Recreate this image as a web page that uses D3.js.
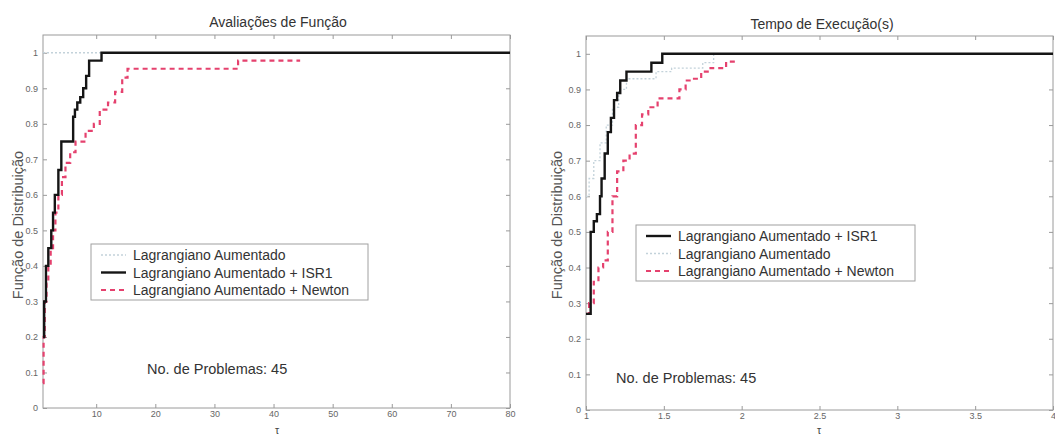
<!DOCTYPE html>
<html><head><meta charset="utf-8">
<script src="https://cdn.jsdelivr.net/npm/d3@7"></script>
<style>
html,body{margin:0;padding:0;background:#fff;}
svg{display:block;font-family:"Liberation Sans",Arial,sans-serif;}
</style></head>
<body>
<svg id="chart" width="1055" height="437"></svg>
<script>
// ---------- data ----------
const seriesNames = ["Lagrangiano Aumentado", "Lagrangiano Aumentado + ISR1", "Lagrangiano Aumentado + Newton"];
const nProblems = 45;

// Panel 1: Avaliações de Função
const fnXTicks = [10, 20, 30, 40, 50, 60, 70, 80];
const fnLaTau   = [1, 80];
const fnLaRho   = [1, 1];
const fnIsr1Tau = [1, 1.2, 1.5, 1.9, 2.4, 2.7, 3.0, 3.6, 4.1, 6.1, 6.4, 6.8, 7.3, 7.8, 8.3, 8.8, 10.9, 80];
const fnIsr1Rho = [0.2, 0.3, 0.4, 0.45, 0.5, 0.55, 0.6, 0.67, 0.75, 0.82, 0.84, 0.86, 0.875, 0.9, 0.935, 0.978, 1, 1];
const fnNewtTau = [1, 1.1, 1.3, 1.6, 1.9, 2.3, 2.7, 3.1, 3.6, 4.2, 4.8, 5.6, 6.5, 8.2, 9.6, 10.6, 12.0, 13.2, 14.4, 15.3, 34.0, 44.5];
const fnNewtRho = [0.07, 0.2, 0.3, 0.35, 0.4, 0.45, 0.5, 0.55, 0.6, 0.65, 0.69, 0.72, 0.75, 0.78, 0.8, 0.84, 0.86, 0.89, 0.93, 0.955, 0.978, 0.978];

// Panel 2: Tempo de Execução(s)
const tmXTicks = [1, 1.5, 2, 2.5, 3, 3.5, 4];
const tmIsr1Tau = [1, 1.03, 1.05, 1.07, 1.09, 1.1, 1.12, 1.14, 1.16, 1.18, 1.2, 1.22, 1.26, 1.3, 1.42, 1.49, 4];
const tmIsr1Rho = [0.27, 0.5, 0.53, 0.55, 0.6, 0.65, 0.72, 0.78, 0.82, 0.87, 0.89, 0.925, 0.95, 0.95, 0.975, 1, 1];
const tmLaTau   = [1, 1.02, 1.05, 1.09, 1.13, 1.17, 1.21, 1.26, 1.45, 1.55, 1.75, 1.82, 4];
const tmLaRho   = [0.6, 0.65, 0.7, 0.75, 0.8, 0.85, 0.9, 0.93, 0.95, 0.96, 0.975, 1, 1];
const tmNewtTau = [1, 1.02, 1.05, 1.08, 1.11, 1.14, 1.17, 1.2, 1.24, 1.28, 1.32, 1.36, 1.4, 1.46, 1.6, 1.64, 1.68, 1.74, 1.8, 1.9, 1.97];
const tmNewtRho = [0.27, 0.3, 0.36, 0.4, 0.42, 0.5, 0.6, 0.67, 0.7, 0.72, 0.8, 0.83, 0.85, 0.875, 0.9, 0.925, 0.93, 0.95, 0.96, 0.978, 0.978];

const yTicks = [0, 0.1, 0.2, 0.3, 0.4, 0.5, 0.6, 0.7, 0.8, 0.9, 1];

// ---------- styles ----------
const styles = {
  la:   {stroke: "#c3d2da", width: 1.3, dash: "2,2"},
  isr1: {stroke: "#151515", width: 2.4, dash: null},
  newt: {stroke: "#e5416e", width: 2.2, dash: "5,4"}
};

const svg = d3.select("#chart");

function zip(t, r) { return t.map((v, i) => [v, r[i]]); }

function panel(cfg) {
  const x = d3.scaleLinear().domain(cfg.xDomain).range([cfg.left, cfg.right]);
  const y = d3.scaleLinear().domain([0, 1.05]).range([cfg.bottom, cfg.top]);
  const g = svg.append("g");

  // frame
  g.append("rect").attr("x", cfg.left).attr("y", cfg.top)
    .attr("width", cfg.right - cfg.left).attr("height", cfg.bottom - cfg.top)
    .attr("fill", "none").attr("stroke", "#9a9a9a").attr("stroke-width", 1);

  // axes (ticks inside, labels outside)
  const xb = g.append("g").attr("transform", `translate(0,${cfg.bottom})`)
    .call(d3.axisBottom(x).tickValues(cfg.xTicks).tickSize(-4).tickPadding(3).tickFormat(d => String(d)));
  const xt = g.append("g").attr("transform", `translate(0,${cfg.top})`)
    .call(d3.axisTop(x).tickValues(cfg.xTicks).tickSize(-4).tickFormat(""));
  const yl = g.append("g").attr("transform", `translate(${cfg.left},0)`)
    .call(d3.axisLeft(y).tickValues(yTicks).tickSize(-4).tickPadding(5).tickFormat(d => String(d)));
  const yr = g.append("g").attr("transform", `translate(${cfg.right},0)`)
    .call(d3.axisRight(y).tickValues(yTicks).tickSize(-4).tickFormat(""));
  [xb, xt, yl, yr].forEach(a => {
    a.select(".domain").remove();
    a.selectAll(".tick line").attr("stroke", "#9a9a9a");
    a.selectAll(".tick text").attr("fill", "#666").attr("font-size", 9)
      .attr("font-family", "Liberation Sans, Arial, sans-serif");
  });

  // lines
  const line = d3.line().x(d => x(d[0])).y(d => y(d[1])).curve(d3.curveStepAfter);
  cfg.series.forEach(s => {
    const st = styles[s.key];
    g.append("path").datum(zip(s.tau, s.rho)).attr("d", line)
      .attr("fill", "none").attr("stroke", st.stroke).attr("stroke-width", st.width)
      .attr("stroke-dasharray", st.dash);
  });

  // title
  g.append("text").attr("x", cfg.titleX).attr("y", cfg.titleY).attr("text-anchor", "middle")
    .attr("font-size", 14).attr("fill", "#333").text(cfg.title);
  // x label
  g.append("text").attr("x", cfg.tauX).attr("y", 434).attr("text-anchor", "middle")
    .attr("font-size", 10.5).attr("fill", "#444").text("τ");
  // y label
  g.append("text").attr("transform", `translate(${cfg.ylabX},${cfg.ylabY}) rotate(-90)`)
    .attr("text-anchor", "middle").attr("font-size", 14.5).attr("fill", "#555")
    .text("Função de Distribuição");

  // legend
  const L = cfg.legend;
  g.append("rect").attr("x", L.x).attr("y", L.y).attr("width", L.w).attr("height", L.h)
    .attr("fill", "#fff").attr("stroke", "#a0a0a0").attr("stroke-width", 1);
  L.order.forEach((key, i) => {
    const st = styles[key];
    const cy = L.y + 11 + i * 17.5;
    g.append("line").attr("x1", L.x + 10).attr("x2", L.x + 35).attr("y1", cy).attr("y2", cy)
      .attr("stroke", st.stroke).attr("stroke-width", st.width).attr("stroke-dasharray", st.dash);
    g.append("text").attr("x", L.x + 42).attr("y", cy + 5).attr("font-size", 14)
      .attr("fill", "#333").text(seriesNames[{la: 0, isr1: 1, newt: 2}[key]]);
  });

  // note
  g.append("text").attr("x", cfg.noteX).attr("y", cfg.noteY).attr("font-size", 14.5)
    .attr("fill", "#333").text("No. de Problemas: " + nProblems);
}

panel({
  left: 43, right: 510, top: 35, bottom: 408,
  xDomain: [1, 80], xTicks: fnXTicks,
  title: "Avaliações de Função", titleX: 278, titleY: 27,
  tauX: 277, ylabX: 23, ylabY: 225,
  series: [
    {key: "la", tau: fnLaTau, rho: fnLaRho},
    {key: "newt", tau: fnNewtTau, rho: fnNewtRho},
    {key: "isr1", tau: fnIsr1Tau, rho: fnIsr1Rho}
  ],
  legend: {x: 91, y: 244, w: 277, h: 56, order: ["la", "isr1", "newt"]},
  noteX: 147, noteY: 374
});

panel({
  left: 586, right: 1053, top: 36, bottom: 410,
  xDomain: [1, 4], xTicks: tmXTicks,
  title: "Tempo de Execução(s)", titleX: 822, titleY: 29,
  tauX: 819, ylabX: 562, ylabY: 225,
  series: [
    {key: "la", tau: tmLaTau, rho: tmLaRho},
    {key: "newt", tau: tmNewtTau, rho: tmNewtRho},
    {key: "isr1", tau: tmIsr1Tau, rho: tmIsr1Rho}
  ],
  legend: {x: 636, y: 225, w: 279, h: 56, order: ["isr1", "la", "newt"]},
  noteX: 616, noteY: 383
});
</script>
</body></html>
